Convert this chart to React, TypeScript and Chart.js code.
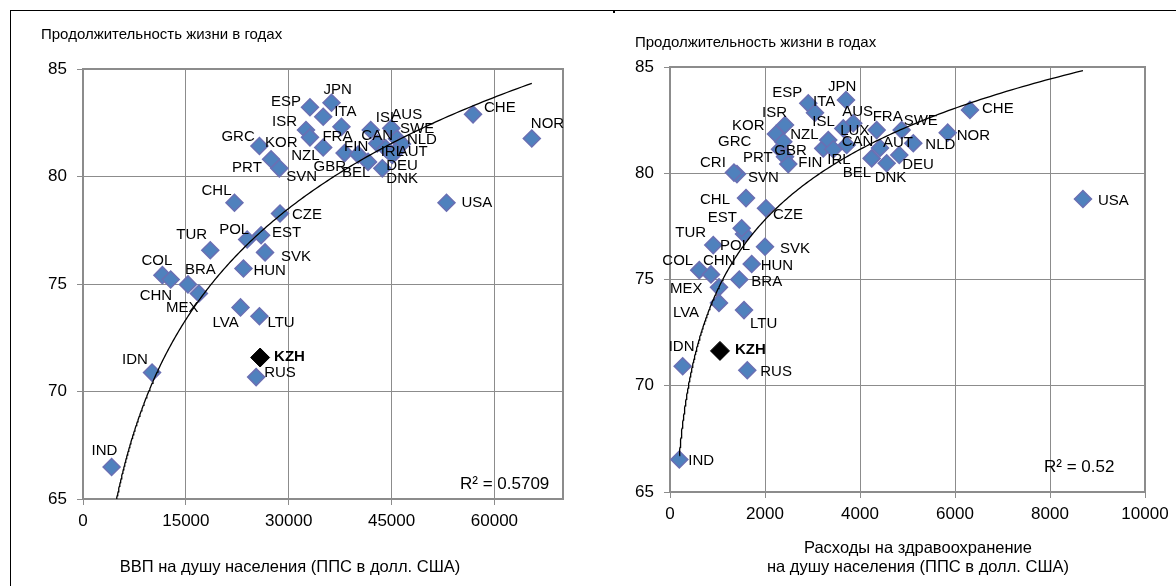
import React, { useEffect, useRef } from 'react';
import { Chart, registerables } from 'chart.js';

Chart.register(...registerables);

// ---------- DATA ----------
const countries = [
  'ESP', 'JPN', 'ITA', 'ISR', 'KOR', 'GRC', 'NZL', 'FRA', 'PRT', 'SVN', 'GBR', 'FIN', 'BEL', 'ISL',
  'CAN', 'AUS', 'SWE', 'NLD', 'IRL', 'AUT', 'DEU', 'DNK', 'LUX', 'CHE', 'NOR', 'USA', 'CRI', 'CHL',
  'CZE', 'POL', 'EST', 'TUR', 'SVK', 'HUN', 'COL', 'CHN', 'BRA', 'MEX', 'LVA', 'LTU', 'RUS', 'IDN', 'IND',
];

// GDP per capita (PPP, USD)
const gdpPerCapita: (number | null)[] = [
  33100, 36240, 35030, 32520, 33100, 25730, 35030, 37690, 27430, 28630, 38150, 40120, 41570, 41960,
  42920, 44960, 45790, 46510, 44140, 45600, 45100, 43650, null, 56880, 65450, 53010, null, 22090,
  28730, 23940, 25970, 18560, 26550, 23400, 11580, 12790, 15310, 16900, 22970, 25730, 25250, 10070, 4170,
];
const lifeExpByGdp: (number | null)[] = [
  83.22, 83.43, 82.78, 82.16, 81.82, 81.42, 81.35, 82.31, 80.80, 80.38, 81.09, 81.02, 80.68, 82.16,
  81.54, 82.24, 81.76, 81.51, 81.31, 81.15, 81.0, 80.38, null, 82.89, 81.77, 78.78, null, 78.78,
  78.28, 77.07, 77.27, 76.57, 76.47, 75.72, 75.41, 75.21, 74.98, 74.56, 73.91, 73.50, 70.67, 70.88, 66.49,
];

// Health expenditure per capita (PPP, USD)
const healthSpend: (number | null)[] = [
  2911, 3705, 3052, 2421, 2231, 2316, 2385, 4351, 2421, 1410, 3227, 2490, 4246, 3332,
  3720, 3858, 4877, 5122, 3438, 4421, 4827, 4562, 3648, 6315, 5846, 8694, 1347, 1600,
  2021, 1558, 1509, 911, 2000, 1720, 617, 863, 1459, 1031, 1031, 1558, 1627, 267, 196,
];
const lifeExpByHealth: (number | null)[] = [
  83.29, 83.45, 82.85, 82.27, 81.85, 81.13, 81.48, 82.03, 80.78, 79.96, 81.17, 80.43, 80.70, 81.56,
  81.33, 82.35, 82.03, 81.41, 81.13, 81.19, 80.86, 80.47, 82.11, 82.98, 81.91, 78.79, 80.03, 78.83,
  78.35, 77.14, 77.41, 76.62, 76.54, 75.73, 75.44, 75.24, 75.00, 74.63, 73.90, 73.56, 70.73, 70.92, 66.53,
];

// Highlighted country
const highlightName = 'KZH';
const highlightGdp = 25830;
const highlightLifeGdp = 71.58;
const highlightHealth = 1052;
const highlightLifeHealth = 71.64;

// Logarithmic trend lines (y = a·ln(x) + b), as fitted in the source chart
const trendGdpA = 7.46;
const trendGdpB = 1.61;
const trendHealthA = 4.776;
const trendHealthB = 41.51;

// Axes
const gdpTicks = [0, 15000, 30000, 45000, 60000];
const gdpMax = 70000;
const healthTicks = [0, 2000, 4000, 6000, 8000, 10000];
const healthMax = 10000;
const lifeTicks = [65, 70, 75, 80, 85];

// Texts
const yTitle = 'Продолжительность жизни в годах';
const xTitleGdp = ['ВВП на душу населения (ППС в долл. США)'];
const xTitleHealth = ['Расходы на здравоохранение', 'на душу населения (ППС в долл. США)'];
const r2Gdp = 'R² = 0.5709';
const r2Health = 'R² = 0.52';

// ---------- LABEL PLACEMENT (style, offsets from marker centre) ----------
const labelOffsetsGdp: Record<string, [number, number]> = {
  ESP: [-39, -5], JPN: [-8, -13], ITA: [11, -5], ISR: [-34, -8], KOR: [-45, 5], GRC: [-38, -9],
  NZL: [-32, 8], FRA: [-19, 10], PRT: [-39, 9], SVN: [7, 9], GBR: [-31, 14], FIN: [-14, -8],
  BEL: [-26, 11], ISL: [5, -12], CAN: [-16, -8], AUS: [0, -13], SWE: [3, -10], NLD: [5, -4],
  IRL: [-5, 4], AUT: [2, 0], DEU: [-6, 11], DNK: [4, 11], CHE: [11, -7], NOR: [-1, -15],
  USA: [15, 0], CHL: [-33, -12], CZE: [12, 1], POL: [-28, -10], EST: [11, -2], TUR: [-34, -15],
  SVK: [16, 4], HUN: [10, 2], COL: [-21, -14], CHN: [-31, 16], BRA: [-3, -15], MEX: [-33, 14],
  LVA: [-28, 15], LTU: [8, 7], KZH: [14, -1], RUS: [8, -4], IDN: [-30, -13], IND: [-20, -16],
};
const labelOffsetsHealth: Record<string, [number, number]> = {
  ESP: [-36, -10], ITA: [-2, -11], JPN: [-18, -13], ISR: [-23, -12], KOR: [-44, -8], NZL: [7, -7],
  GRC: [-62, -7], PRT: [-42, 1], GBR: [-49, 2], FIN: [10, -1], CRI: [-34, -10], SVN: [11, 4],
  AUS: [-11, -11], ISL: [-16, -18], LUX: [-3, 2], FRA: [-4, -13], AUT: [3, -5], CAN: [-5, -3],
  IRL: [-6, 11], SWE: [2, -9], NLD: [12, 2], DEU: [3, 10], BEL: [-29, 14], DNK: [-12, 15],
  NOR: [9, 3], CHE: [12, -1], USA: [15, 2], CHL: [-46, 2], CZE: [7, 7], EST: [-34, -10],
  POL: [-24, 12], TUR: [-38, -12], SVK: [15, 2], COL: [-37, -9], CHN: [-8, -14], HUN: [9, 2],
  BRA: [12, 2], MEX: [-49, 1], LVA: [-46, 10], LTU: [6, 14], KZH: [15, -1], RUS: [13, 2],
  IDN: [-14, -19], IND: [9, 1],
};

// ---------- HELPERS ----------
const FONT = "'Liberation Sans', Arial, sans-serif";
const GRID = '#8c8c8c';

function logTrend(a: number, b: number, xs: number[]) {
  const minX = Math.min(...xs);
  const maxX = Math.max(...xs);
  const pts: { x: number; y: number }[] = [];
  const steps = 240;
  for (let i = 0; i <= steps; i++) {
    const x = minX * Math.pow(maxX / minX, i / steps);
    pts.push({ x, y: a * Math.log(x) + b });
  }
  return pts;
}

interface PanelSpec {
  left: number;
  xValues: (number | null)[];
  yValues: (number | null)[];
  hx: number;
  hy: number;
  trendA: number;
  trendB: number;
  xTicks: number[];
  xMax: number;
  offsets: Record<string, [number, number]>;
  r2: string;
  xTitle: string[];
  pad: { top: number; right: number; bottom: number };
  yAxisWidth: number;
  titlePos: [number, number];
  r2Pos: [number, number];
  xTitlePos: [number, number];
}

function makeChart(canvas: HTMLCanvasElement, spec: PanelSpec) {
  const pts: { x: number; y: number }[] = [];
  const names: string[] = [];
  const xs: number[] = [];
  countries.forEach((c, i) => {
    const x = spec.xValues[i];
    const y = spec.yValues[i];
    if (x == null || y == null) return;
    pts.push({ x, y });
    names.push(c);
    xs.push(x);
  });
  const trend = logTrend(spec.trendA, spec.trendB, xs);

  const textPlugin = {
    id: 'panelText',
    beforeDatasetsDraw(chart: any) {
      const { ctx, chartArea } = chart;
      ctx.save();
      ctx.strokeStyle = GRID;
      ctx.lineWidth = 2;
      ctx.strokeRect(chartArea.left, chartArea.top, chartArea.right - chartArea.left, chartArea.bottom - chartArea.top);
      ctx.restore();
    },
    afterDatasetsDraw(chart: any) {
      const ctx = chart.ctx;
      ctx.save();
      ctx.textBaseline = 'middle';
      ctx.textAlign = 'left';
      ctx.fillStyle = '#000';
      chart.data.datasets.forEach((ds: any, di: number) => {
        if (!ds.names) return;
        const meta = chart.getDatasetMeta(di);
        meta.data.forEach((el: any, i: number) => {
          const name = ds.names[i];
          const off = spec.offsets[name] || [10, 0];
          ctx.font = (ds.boldLabels ? 'bold ' : '') + '15px ' + FONT;
          ctx.fillText(name, el.x + off[0], el.y + off[1]);
        });
      });
      ctx.restore();
    },
    afterDraw(chart: any) {
      const ctx = chart.ctx;
      ctx.save();
      ctx.fillStyle = '#000';
      ctx.textBaseline = 'middle';
      ctx.textAlign = 'left';
      ctx.font = '15px ' + FONT;
      ctx.fillText(yTitle, spec.titlePos[0], spec.titlePos[1]);
      ctx.font = '17px ' + FONT;
      ctx.fillText(spec.r2, spec.r2Pos[0], spec.r2Pos[1]);
      ctx.font = '16.5px ' + FONT;
      ctx.textAlign = 'center';
      spec.xTitle.forEach((line, i) => {
        ctx.fillText(line, spec.xTitlePos[0], spec.xTitlePos[1] + i * 19);
      });
      ctx.restore();
    },
  };

  const tickFont = { family: FONT, size: 17 };
  const plainNumber = (v: any) => String(v);

  return new Chart(canvas, {
    type: 'scatter',
    data: {
      datasets: [
        {
          label: 'trend',
          data: trend,
          showLine: true,
          pointRadius: 0,
          borderColor: '#000',
          borderWidth: 1.3,
          tension: 0,
          order: 0,
        } as any,
        {
          label: highlightName,
          data: [{ x: spec.hx, y: spec.hy }],
          names: [highlightName],
          boldLabels: true,
          pointStyle: 'rectRot',
          pointRadius: 9.5,
          backgroundColor: '#000',
          borderColor: '#000',
          borderWidth: 1,
          order: 1,
        } as any,
        {
          label: 'countries',
          data: pts,
          names,
          pointStyle: 'rectRot',
          pointRadius: 8.5,
          backgroundColor: '#4f81bd',
          borderColor: '#6a6fb3',
          borderWidth: 1.5,
          order: 2,
        } as any,
      ],
    },
    options: {
      responsive: false,
      animation: false,
      events: [],
      layout: { padding: { left: 0, top: spec.pad.top, right: spec.pad.right, bottom: spec.pad.bottom } },
      plugins: { legend: { display: false }, tooltip: { enabled: false }, title: { display: false } },
      scales: {
        x: {
          type: 'linear',
          min: 0,
          max: spec.xMax,
          afterBuildTicks: (scale: any) => {
            scale.ticks = spec.xTicks.map((v) => ({ value: v }));
          },
          afterFit: (scale: any) => {
            scale.height = 40;
          },
          ticks: { font: tickFont, color: '#000', padding: 6, maxRotation: 0, autoSkip: false, callback: plainNumber },
          grid: { color: GRID, lineWidth: 1, tickLength: 6, tickColor: GRID },
          border: { color: GRID, width: 2 },
        },
        y: {
          type: 'linear',
          min: 65,
          max: 85,
          afterBuildTicks: (scale: any) => {
            scale.ticks = lifeTicks.map((v) => ({ value: v }));
          },
          afterFit: (scale: any) => {
            scale.width = spec.yAxisWidth;
          },
          ticks: { font: tickFont, color: '#000', padding: 10, callback: plainNumber },
          grid: { color: GRID, lineWidth: 1, tickLength: 6, tickColor: GRID },
          border: { color: GRID, width: 2 },
        },
      },
    } as any,
    plugins: [textPlugin],
  });
}

function Panel({ spec }: { spec: PanelSpec }) {
  const ref = useRef<HTMLCanvasElement>(null);
  useEffect(() => {
    if (!ref.current) return;
    const chart = makeChart(ref.current, spec);
    return () => chart.destroy();
  }, [spec]);
  return (
    <canvas
      ref={ref}
      width={588}
      height={586}
      style={{ position: 'absolute', left: spec.left, top: 0, width: 588, height: 586 }}
    />
  );
}

const leftSpec: PanelSpec = {
  left: 0,
  xValues: gdpPerCapita,
  yValues: lifeExpByGdp,
  hx: highlightGdp,
  hy: highlightLifeGdp,
  trendA: trendGdpA,
  trendB: trendGdpB,
  xTicks: gdpTicks,
  xMax: gdpMax,
  offsets: labelOffsetsGdp,
  r2: r2Gdp,
  xTitle: xTitleGdp,
  pad: { top: 69, right: 25, bottom: 47 },
  yAxisWidth: 83,
  titlePos: [41, 35],
  r2Pos: [460, 484],
  xTitlePos: [290, 567],
};

const rightSpec: PanelSpec = {
  left: 588,
  xValues: healthSpend,
  yValues: lifeExpByHealth,
  hx: highlightHealth,
  hy: highlightLifeHealth,
  trendA: trendHealthA,
  trendB: trendHealthB,
  xTicks: healthTicks,
  xMax: healthMax,
  offsets: labelOffsetsHealth,
  r2: r2Health,
  xTitle: xTitleHealth,
  pad: { top: 67, right: 31, bottom: 54 },
  yAxisWidth: 82,
  titlePos: [47, 43],
  r2Pos: [456, 467],
  xTitlePos: [330, 548],
};

export default function App() {
  return (
    <div style={{ position: 'fixed', left: 0, top: 0, width: 1176, height: 586, background: '#fff', overflow: 'hidden' }}>
      <Panel spec={leftSpec} />
      <Panel spec={rightSpec} />
      <div
        style={{
          position: 'absolute',
          left: 10,
          top: 10,
          width: 1170,
          height: 580,
          borderTop: '1.5px solid #000',
          borderLeft: '1.5px solid #000',
          pointerEvents: 'none',
        }}
      />
      <div style={{ position: 'absolute', left: 613, top: 11, width: 2, height: 2, background: '#000' }} />
    </div>
  );
}
